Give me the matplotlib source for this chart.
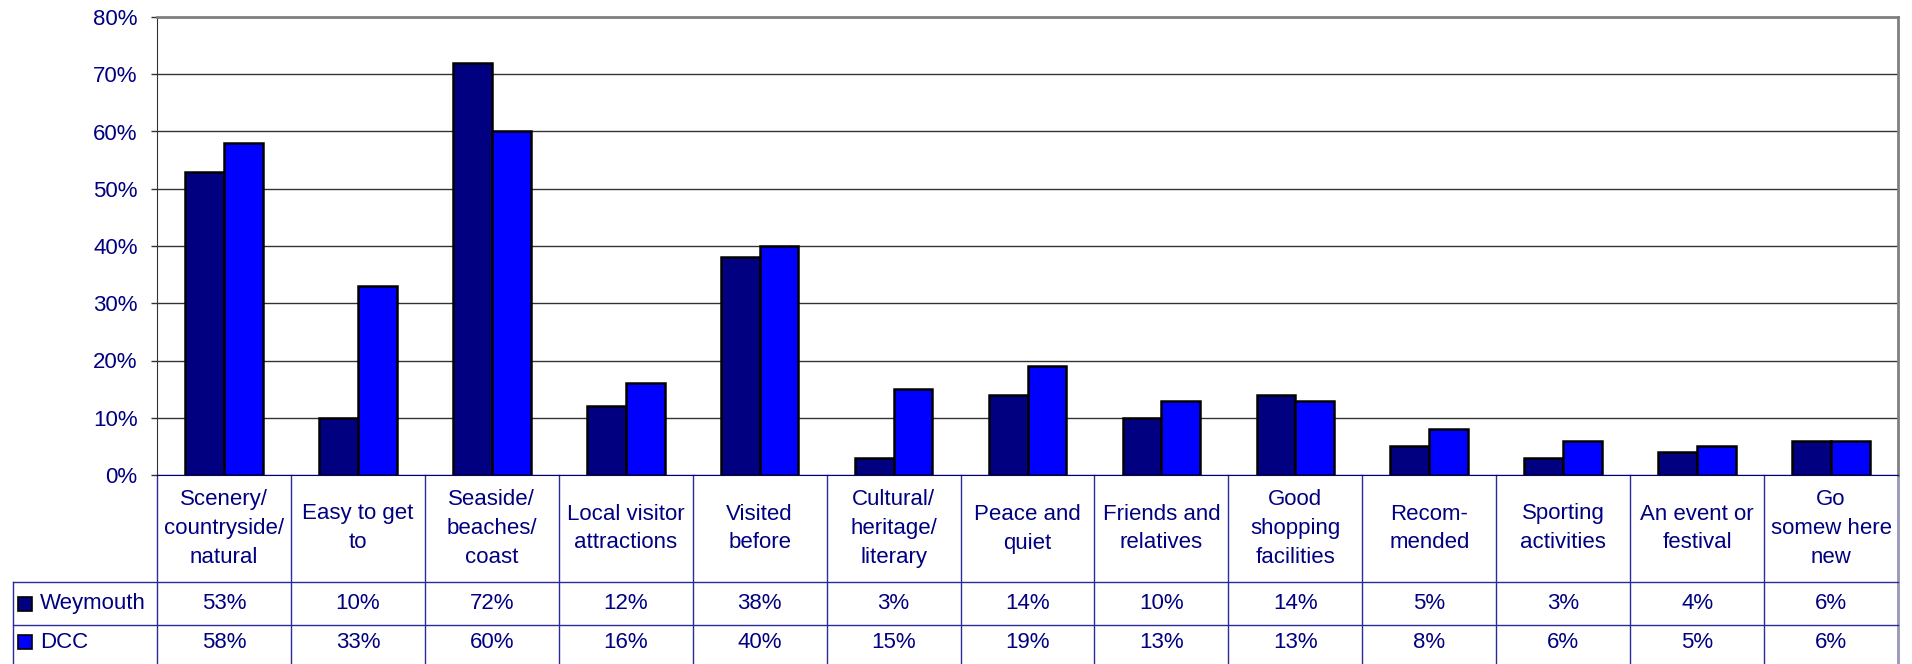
import numpy as np
import matplotlib
matplotlib.use("Agg")
import matplotlib.pyplot as plt
from matplotlib.patches import Rectangle

plt.rcParams['font.family'] = ['Liberation Sans', 'DejaVu Sans']

categories = ["Scenery/\ncountryside/\nnatural", "Easy to get\nto", "Seaside/\nbeaches/\ncoast",
              "Local visitor\nattractions", "Visited\nbefore", "Cultural/\nheritage/\nliterary",
              "Peace and\nquiet", "Friends and\nrelatives", "Good\nshopping\nfacilities",
              "Recom-\nmended", "Sporting\nactivities", "An event or\nfestival", "Go\nsomew here\nnew"]
weymouth = [53, 10, 72, 12, 38, 3, 14, 10, 14, 5, 3, 4, 6]
dcc = [58, 33, 60, 16, 40, 15, 19, 13, 13, 8, 6, 5, 6]
series = ["Weymouth", "DCC"]
colors = ["#000080", "#0000FF"]
yticks = [0, 10, 20, 30, 40, 50, 60, 70, 80]

navy = "#000080"
W, H = 1912, 664
fig = plt.figure(figsize=(W/100, H/100), dpi=100)
left, right, top, bottom = 157, 1898, 17, 475
ax = fig.add_axes([left/W, 1-bottom/H, (right-left)/W, (bottom-top)/H])

x = np.arange(len(categories))
bw = 0.29
ax.bar(x - bw/2, weymouth, bw, color=colors[0], edgecolor="black", linewidth=1.8, zorder=3)
ax.bar(x + bw/2, dcc, bw, color=colors[1], edgecolor="black", linewidth=1.8, zorder=3)

ax.set_xlim(-0.5, len(categories) - 0.5)
ax.set_ylim(0, 80)
ax.set_yticks(yticks)
ax.set_yticklabels([f"{v}%" for v in yticks])
ax.yaxis.grid(True, color="#333333", linewidth=1, zorder=0)
ax.tick_params(axis="y", direction="out", length=4, width=1, color="#333333",
               labelcolor=navy, labelsize=16, pad=10)
ax.set_xticks([])
ax.spines["left"].set_color("#333333")
ax.spines["top"].set_color("#808080")
ax.spines["top"].set_linewidth(2)
ax.spines["right"].set_color("#808080")
ax.spines["right"].set_linewidth(2)
ax.spines["bottom"].set_color(navy)

# data table below the plot
tr = ax.get_xaxis_transform()
ph = bottom - top
r1 = -(582 - bottom) / ph
r2 = -(625 - bottom) / ph
r3 = -(H - bottom) / ph
xl = -0.5 - (left - 13) / ((right - left) / len(categories))
lc = "#2A2A9A"
for b in np.arange(-0.5, len(categories)):
    ax.plot([b, b], [0, r3], color=lc, lw=1, transform=tr, clip_on=False)
ax.plot([len(categories) - 0.5] * 2, [0, r3], color="#9999BB", lw=2, transform=tr, clip_on=False)
for r in (r1, r2):
    ax.plot([xl, len(categories) - 0.5], [r, r], color=lc, lw=1, transform=tr, clip_on=False)
ax.plot([xl, xl], [r1, r3], color=lc, lw=1, transform=tr, clip_on=False)

for i, c in enumerate(categories):
    ax.text(i, r1/2, c, transform=tr, ha="center", va="center", fontsize=16,
            color=navy, linespacing=1.5)
    ax.text(i, (r1 + r2)/2, f"{weymouth[i]}%", transform=tr, ha="center", va="center",
            fontsize=16, color=navy)
    ax.text(i, (r2 + r3)/2 + 0.005, f"{dcc[i]}%", transform=tr, ha="center", va="center",
            fontsize=16, color=navy)

for k, (name, col) in enumerate(zip(series, colors)):
    yc = (r1 + r2)/2 if k == 0 else (r2 + r3)/2 + 0.005
    fig.patches.append(Rectangle((18/W, 1 - (yc * -ph + bottom + 7)/H), 14/W, 14/H,
                                 facecolor=col, edgecolor="black", lw=1.2,
                                 transform=fig.transFigure, figure=fig))
    fig.text(40/W, 1 - (yc * -ph + bottom)/H, name, ha="left", va="center",
             fontsize=16, color=navy)

fig.savefig("out.png", dpi=100)
